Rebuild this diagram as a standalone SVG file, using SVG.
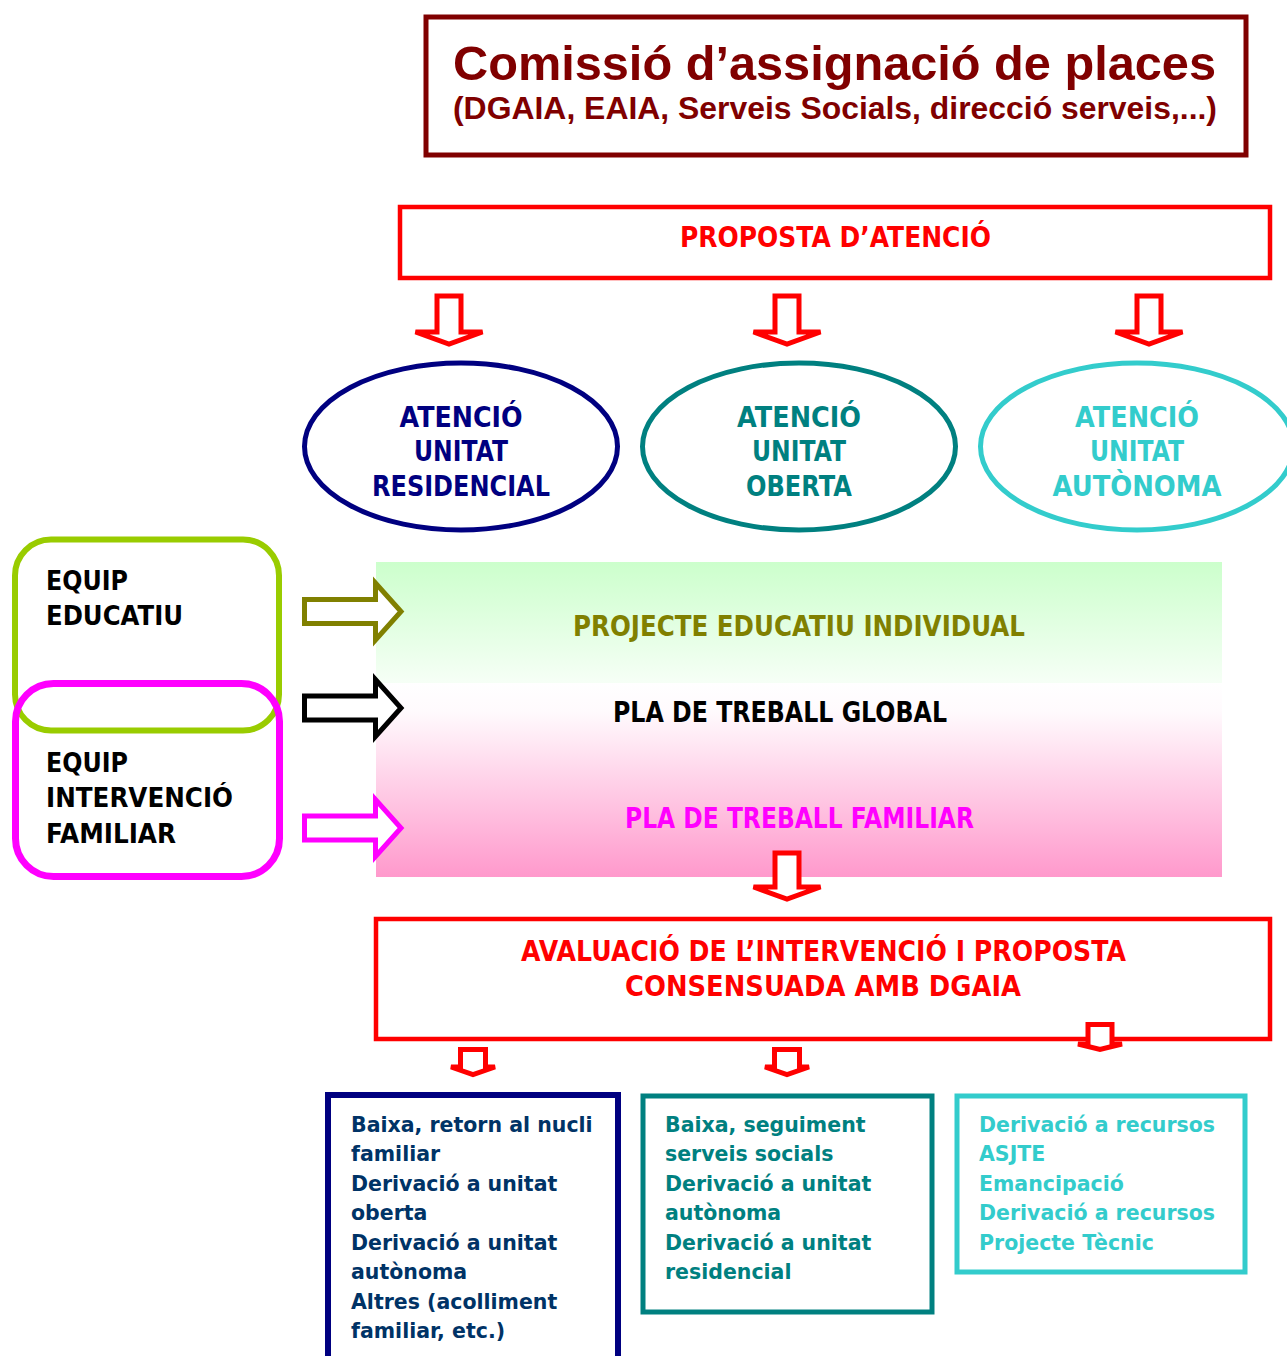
<svg xmlns="http://www.w3.org/2000/svg" width="1287" height="1356" viewBox="0 0 1287 1356">
<defs>
<linearGradient id="gGreen" x1="0" y1="0" x2="0" y2="1">
<stop offset="0" stop-color="#ccffcc"/>
<stop offset="1" stop-color="#f6fff6"/>
</linearGradient>
<linearGradient id="gPink" x1="0" y1="0" x2="0" y2="1">
<stop offset="0" stop-color="#ffffff"/>
<stop offset="0.15" stop-color="#fffafd"/>
<stop offset="1" stop-color="#ff99cc"/>
</linearGradient>
</defs>
<style>
text{font-family:"DejaVu Sans","Liberation Sans",sans-serif;font-weight:bold}
.t{font-family:"Liberation Sans","DejaVu Sans",sans-serif}
.c{text-anchor:middle}
.arr{fill:#ffffff;stroke-width:5;stroke-linejoin:miter}
.red{stroke:#ff0000}
.box{fill:#ffffff}
.small{font-size:20.5px}
</style>
<rect width="1287" height="1356" fill="#ffffff"/>

<g id="title">
<rect x="426" y="17" width="820" height="138" fill="#ffffff" stroke="#800000" stroke-width="5"/>
<text x="834.5" y="80" class="c t" font-size="48.5" fill="#800000" textLength="763" lengthAdjust="spacingAndGlyphs">Comissió d’assignació de places</text>
<text x="835" y="119" class="c t" font-size="31.8" fill="#800000" textLength="764" lengthAdjust="spacingAndGlyphs">(DGAIA, EAIA, Serveis Socials, direcció serveis,...)</text>
</g>

<g id="proposta">
<rect x="400" y="207" width="870" height="71" fill="#ffffff" stroke="#ff0000" stroke-width="4.5"/>
<text x="835.5" y="247" class="c" font-size="29" fill="#ff0000" textLength="311" lengthAdjust="spacingAndGlyphs">PROPOSTA D’ATENCIÓ</text>
</g>

<g id="residencial">
<ellipse cx="461" cy="446.5" rx="156.5" ry="83.5" fill="#ffffff" stroke="#000080" stroke-width="5"/>
<text x="461" y="427" class="c" font-size="28" fill="#000080" textLength="123" lengthAdjust="spacingAndGlyphs">ATENCIÓ</text>
<text x="461" y="461" class="c" font-size="28" fill="#000080" textLength="94" lengthAdjust="spacingAndGlyphs">UNITAT</text>
<text x="461" y="496" class="c" font-size="28" fill="#000080" textLength="178" lengthAdjust="spacingAndGlyphs">RESIDENCIAL</text>
</g>

<g id="oberta">
<ellipse cx="799" cy="446.5" rx="156.5" ry="83.5" fill="#ffffff" stroke="#008080" stroke-width="5"/>
<text x="799" y="427" class="c" font-size="28" fill="#008080" textLength="124" lengthAdjust="spacingAndGlyphs">ATENCIÓ</text>
<text x="799" y="461" class="c" font-size="28" fill="#008080" textLength="94" lengthAdjust="spacingAndGlyphs">UNITAT</text>
<text x="799" y="496" class="c" font-size="28" fill="#008080" textLength="106" lengthAdjust="spacingAndGlyphs">OBERTA</text>
</g>

<g id="autonoma">
<ellipse cx="1137" cy="446.5" rx="156.5" ry="83.5" fill="#ffffff" stroke="#33cccc" stroke-width="5"/>
<text x="1137" y="427" class="c" font-size="28" fill="#33cccc" textLength="124" lengthAdjust="spacingAndGlyphs">ATENCIÓ</text>
<text x="1137" y="461" class="c" font-size="28" fill="#33cccc" textLength="94" lengthAdjust="spacingAndGlyphs">UNITAT</text>
<text x="1137" y="496" class="c" font-size="28" fill="#33cccc" textLength="169" lengthAdjust="spacingAndGlyphs">AUTÒNOMA</text>
</g>

<g id="plans">
<rect x="376" y="562" width="846" height="121" fill="url(#gGreen)"/>
<rect x="376" y="683" width="846" height="194" fill="url(#gPink)"/>
<text x="799" y="636" class="c" font-size="28" fill="#808000" textLength="452" lengthAdjust="spacingAndGlyphs">PROJECTE EDUCATIU INDIVIDUAL</text>
<text x="780" y="722" class="c" font-size="28" fill="#000000" textLength="334" lengthAdjust="spacingAndGlyphs">PLA DE TREBALL GLOBAL</text>
<text x="799.5" y="828" class="c" font-size="28" fill="#ff00ff" textLength="349" lengthAdjust="spacingAndGlyphs">PLA DE TREBALL FAMILIAR</text>
</g>

<g id="equip-educatiu">
<rect x="15" y="539.5" width="264" height="191" rx="36" ry="36" fill="none" stroke="#99cc00" stroke-width="6"/>
<text x="46" y="590" font-size="27" fill="#000000" textLength="82" lengthAdjust="spacingAndGlyphs">EQUIP</text>
<text x="46" y="625" font-size="27" fill="#000000" textLength="137" lengthAdjust="spacingAndGlyphs">EDUCATIU</text>
</g>

<g id="equip-familiar">
<rect x="15.5" y="683.5" width="264" height="193" rx="38" ry="38" fill="none" stroke="#ff00ff" stroke-width="7"/>
<text x="46" y="772" font-size="27" fill="#000000" textLength="82" lengthAdjust="spacingAndGlyphs">EQUIP</text>
<text x="46" y="807" font-size="27" fill="#000000" textLength="187" lengthAdjust="spacingAndGlyphs">INTERVENCIÓ</text>
<text x="46" y="843" font-size="27" fill="#000000" textLength="130" lengthAdjust="spacingAndGlyphs">FAMILIAR</text>
</g>

<g id="avaluacio">
<rect x="376" y="919" width="894" height="120" fill="#ffffff" stroke="#ff0000" stroke-width="4.5"/>
<text x="823.5" y="961" class="c" font-size="28" fill="#ff0000" textLength="605" lengthAdjust="spacingAndGlyphs">AVALUACIÓ DE L’INTERVENCIÓ I PROPOSTA</text>
<text x="823" y="996" class="c" font-size="28" fill="#ff0000" textLength="396" lengthAdjust="spacingAndGlyphs">CONSENSUADA AMB DGAIA</text>
</g>

<g id="result-residencial">
<rect x="328" y="1095" width="290" height="300" class="box" stroke="#000080" stroke-width="6"/>
<text class="small" fill="#003366">
<tspan x="351" y="1132">Baixa, retorn al nucli</tspan>
<tspan x="351" y="1161">familiar</tspan>
<tspan x="351" y="1191">Derivació a unitat</tspan>
<tspan x="351" y="1220">oberta</tspan>
<tspan x="351" y="1250">Derivació a unitat</tspan>
<tspan x="351" y="1279">autònoma</tspan>
<tspan x="351" y="1309">Altres (acolliment</tspan>
<tspan x="351" y="1338">familiar, etc.)</tspan>
</text>
</g>

<g id="result-oberta">
<rect x="643" y="1096" width="289" height="216" class="box" stroke="#008080" stroke-width="5"/>
<text class="small" fill="#008080">
<tspan x="665" y="1132">Baixa, seguiment</tspan>
<tspan x="665" y="1161">serveis socials</tspan>
<tspan x="665" y="1191">Derivació a unitat</tspan>
<tspan x="665" y="1220">autònoma</tspan>
<tspan x="665" y="1250">Derivació a unitat</tspan>
<tspan x="665" y="1279">residencial</tspan>
</text>
</g>

<g id="result-autonoma">
<rect x="957" y="1096" width="288" height="176" class="box" stroke="#33cccc" stroke-width="5"/>
<text class="small" fill="#33cccc">
<tspan x="979" y="1132">Derivació a recursos</tspan>
<tspan x="979" y="1161">ASJTE</tspan>
<tspan x="979" y="1191">Emancipació</tspan>
<tspan x="979" y="1220">Derivació a recursos</tspan>
<tspan x="979" y="1250">Projecte Tècnic</tspan>
</text>
</g>

<g id="connectors">
<path class="arr red" d="M437,296 H461 V332 H482.5 L449,344 L415.5,332 H437 Z"/>
<path class="arr red" d="M775,296 H799 V332 H820.5 L787,344 L753.5,332 H775 Z"/>
<path class="arr red" d="M1137,296 H1161 V332 H1182.5 L1149,344 L1115.5,332 H1137 Z"/>
<path class="arr red" d="M775,853 H799 V887 H820.5 L787,899 L753.5,887 H775 Z"/>
<path class="arr red" d="M460.5,1049.5 H485.5 V1067 H495 L473,1074.5 L451,1067 H460.5 Z"/>
<path class="arr red" d="M774.5,1049.5 H799.5 V1067 H809 L787,1074.5 L765,1067 H774.5 Z"/>
<path class="arr red" d="M1088,1024.5 H1112 V1044 H1122 L1100,1049.5 L1078,1044 H1088 Z"/>
<path class="arr" stroke="#808000" d="M304.5,599.5 H375.5 V583 L401,611.5 L375.5,640 V623.5 H304.5 Z"/>
<path class="arr" stroke="#000000" d="M304.5,696 H375.5 V679.5 L401,708 L375.5,736.5 V720 H304.5 Z"/>
<path class="arr" stroke="#ff00ff" d="M304.5,816 H375.5 V799.5 L401,828 L375.5,856.5 V840 H304.5 Z"/>
</g>
</svg>
